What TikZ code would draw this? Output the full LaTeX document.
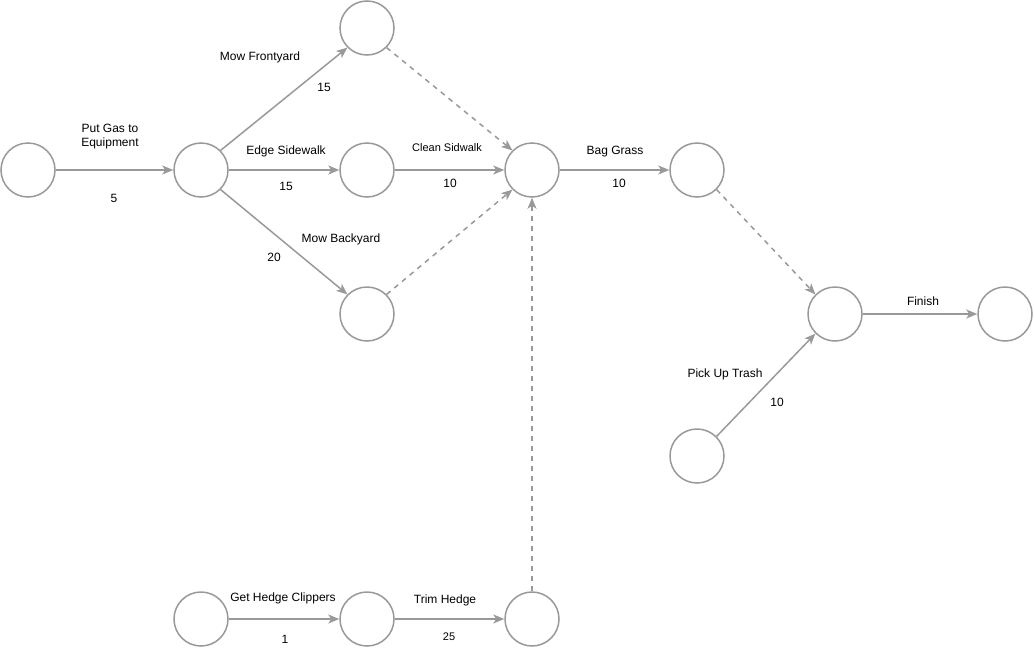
\documentclass[tikz,border=0pt]{standalone}
\usepackage{fontspec}
\setmainfont{Liberation Sans}
\usepackage{tikz}
\usetikzlibrary{
	arrows.meta,
	shapes,
}
\definecolor{edgegray}{HTML}{999999}

\tikzset{
	event/.style={circle, draw=edgegray, line width=1.5pt, minimum size=54pt, inner sep=0pt},
	act/.style={draw=edgegray, line width=1.5pt, -{Stealth[length=11pt,width=9pt,inset=3pt]}},
	dummy/.style={act, dashed, dash pattern=on 5pt off 5pt},
	lbl/.style={font=\fontsize{12}{14}\selectfont, align=center},
	small/.style={font=\fontsize{11}{13}\selectfont},
}

\begin{document}
\begin{tikzpicture}[x=1pt,y=-1pt]
	\useasboundingbox (0,0) rectangle (1034,648);

	% events
	\node[event] (start)    at (28,170) {};
	\node[event] (gas)      at (201,170) {};
	\node[event] (front)    at (367,28) {};
	\node[event] (edge)     at (367,170) {};
	\node[event] (back)     at (367,314) {};
	\node[event] (clean)    at (532,170) {};
	\node[event] (bag)      at (697,170) {};
	\node[event] (join)     at (835,314) {};
	\node[event] (finish)   at (1005,314) {};
	\node[event] (trash)    at (697,456) {};
	\node[event] (hstart)   at (201,619) {};
	\node[event] (clippers) at (367,619) {};
	\node[event] (hedge)    at (532,619) {};

	% activities
	\draw[act] (start) -- (gas);
	\draw[act] (gas.45) -- (front.225);
	\draw[act] (gas) -- (edge);
	\draw[act] (gas.-45) -- (back.135);
	\draw[act] (edge) -- (clean);
	\draw[act] (clean) -- (bag);
	\draw[act] (join) -- (finish);
	\draw[act] (trash.45) -- (join.225);
	\draw[act] (hstart) -- (clippers);
	\draw[act] (clippers) -- (hedge);

	% dummies
	\draw[dummy] (front.-45) -- (clean.135);
	\draw[dummy] (back.45) -- (clean.225);
	\draw[dummy] (bag.-45) -- (join.135);
	\draw[dummy] (hedge.north) -- (clean.south);

	% labels
	\node[lbl] (lgas)   at (110,137) {Put Gas to\\Equipment};
	\node[lbl] (tgas)   at (114,198) {5};
	\node[lbl] (lfront) at (260,57) {Mow Frontyard};
	\node[lbl] (tfront) at (324,87) {15};
	\node[lbl] (ledge)  at (286,151) {Edge Sidewalk};
	\node[lbl] (tedge)  at (286,186) {15};
	\node[lbl] (lback)  at (341,239) {Mow Backyard};
	\node[lbl] (tback)  at (274,257) {20};
	\node[small] (lclean) at (447,148) {Clean Sidwalk};
	\node[lbl] (tclean) at (450,183) {10};
	\node[lbl] (lbag)   at (615,152) {Bag Grass};
	\node[lbl] (tbag)   at (619,183) {10};
	\node[lbl] (lfin)   at (923,301) {Finish};
	\node[lbl] (ltrash) at (725,374) {Pick Up Trash};
	\node[lbl] (ttrash) at (777,402) {10};
	\node[lbl] (lclip)  at (283,598) {Get Hedge Clippers};
	\node[lbl] (tclip)  at (285,639) {1};
	\node[lbl] (lhedge) at (445,600) {Trim Hedge};
	\node[small] (thedge) at (449,637) {25};
\end{tikzpicture}
\end{document}
